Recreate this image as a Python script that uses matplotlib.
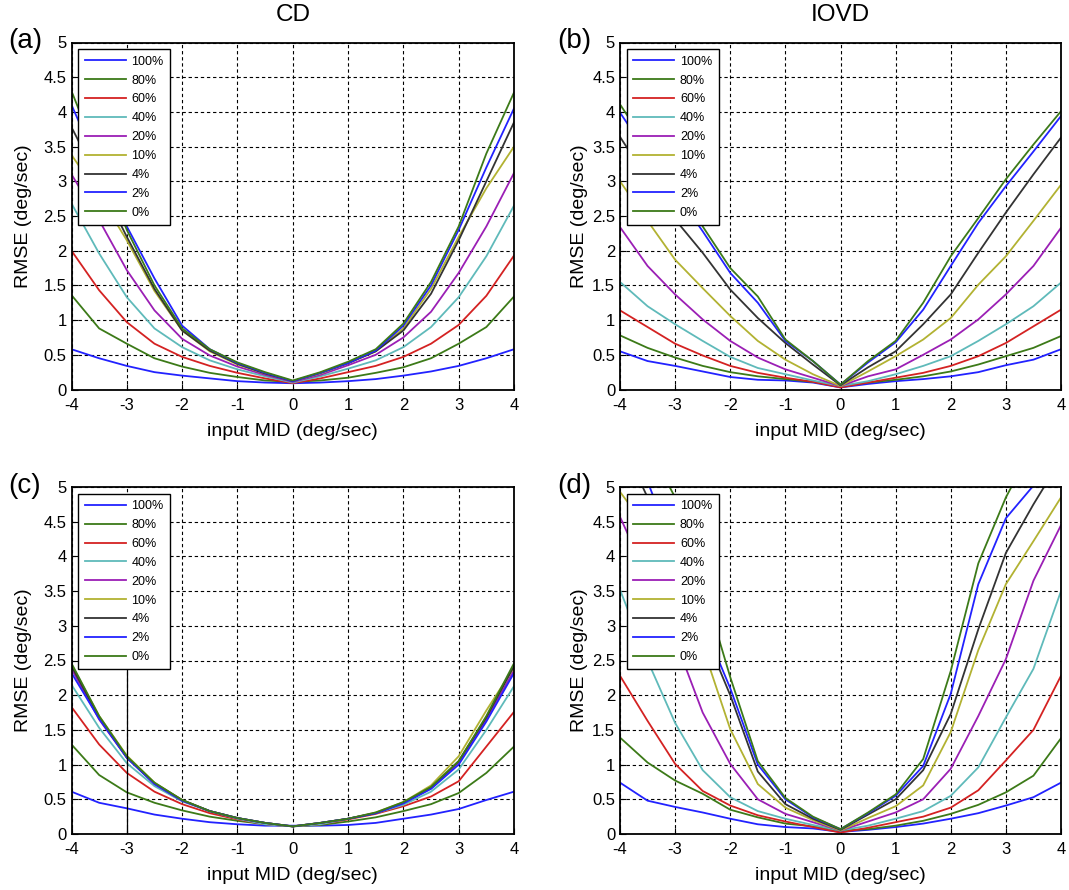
import numpy as np
import matplotlib.pyplot as plt

plt.rcParams['font.family'] = ['Liberation Sans', 'DejaVu Sans']
plt.rcParams['axes.unicode_minus'] = False

# input MID sample points (deg/sec)
mid = np.arange(-4, 4.01, 0.5)

labels = ['100%', '80%', '60%', '40%', '20%', '10%', '4%', '2%', '0%']
colors = ['#2222ff', '#3c7a18', '#d42222', '#5fbaba', '#9b1fb5',
          '#b2b232', '#333333', '#2222ff', '#3c7a18']

# (a) CD, top row
cd_a = [
    [0.58, 0.45, 0.34, 0.25, 0.20, 0.16, 0.12, 0.10, 0.09, 0.10, 0.12, 0.15, 0.20, 0.26, 0.34, 0.45, 0.58],
    [1.36, 0.88, 0.66, 0.45, 0.33, 0.24, 0.18, 0.13, 0.11, 0.13, 0.17, 0.24, 0.32, 0.45, 0.66, 0.90, 1.34],
    [2.00, 1.43, 0.97, 0.66, 0.47, 0.34, 0.24, 0.16, 0.09, 0.16, 0.25, 0.34, 0.47, 0.66, 0.93, 1.35, 1.93],
    [2.68, 1.96, 1.33, 0.88, 0.61, 0.42, 0.29, 0.19, 0.10, 0.19, 0.30, 0.42, 0.61, 0.90, 1.33, 1.92, 2.65],
    [3.10, 2.44, 1.72, 1.14, 0.73, 0.49, 0.33, 0.21, 0.11, 0.21, 0.35, 0.50, 0.75, 1.12, 1.68, 2.35, 3.12],
    [3.38, 2.80, 2.15, 1.42, 0.85, 0.55, 0.36, 0.23, 0.12, 0.23, 0.38, 0.55, 0.88, 1.45, 2.20, 2.90, 3.50],
    [3.78, 3.00, 2.20, 1.45, 0.85, 0.56, 0.37, 0.23, 0.12, 0.24, 0.38, 0.55, 0.85, 1.38, 2.15, 3.00, 3.85],
    [4.10, 3.20, 2.35, 1.60, 0.92, 0.58, 0.38, 0.24, 0.12, 0.24, 0.38, 0.56, 0.92, 1.50, 2.30, 3.20, 4.05],
    [4.30, 3.30, 2.30, 1.50, 0.88, 0.58, 0.39, 0.25, 0.13, 0.25, 0.40, 0.58, 0.95, 1.55, 2.35, 3.40, 4.28],
]

# (b) IOVD, top row
iovd_b = [
    [0.55, 0.41, 0.34, 0.26, 0.18, 0.14, 0.13, 0.10, 0.03, 0.08, 0.12, 0.15, 0.19, 0.25, 0.35, 0.43, 0.58],
    [0.78, 0.60, 0.46, 0.34, 0.25, 0.19, 0.15, 0.11, 0.05, 0.10, 0.14, 0.19, 0.26, 0.36, 0.48, 0.60, 0.77],
    [1.14, 0.90, 0.66, 0.49, 0.34, 0.24, 0.17, 0.11, 0.03, 0.10, 0.17, 0.24, 0.34, 0.48, 0.67, 0.91, 1.15],
    [1.55, 1.20, 0.94, 0.70, 0.47, 0.31, 0.22, 0.13, 0.05, 0.12, 0.22, 0.34, 0.48, 0.70, 0.94, 1.20, 1.54],
    [2.34, 1.78, 1.37, 1.01, 0.70, 0.46, 0.29, 0.17, 0.05, 0.19, 0.29, 0.50, 0.72, 1.01, 1.37, 1.78, 2.33],
    [3.00, 2.43, 1.87, 1.46, 1.06, 0.70, 0.43, 0.22, 0.05, 0.26, 0.48, 0.72, 1.03, 1.51, 1.92, 2.43, 2.95],
    [3.64, 3.03, 2.45, 1.97, 1.44, 1.03, 0.67, 0.36, 0.06, 0.32, 0.55, 0.94, 1.37, 1.97, 2.55, 3.10, 3.63],
    [3.99, 3.40, 2.85, 2.28, 1.68, 1.25, 0.70, 0.41, 0.07, 0.39, 0.68, 1.15, 1.78, 2.40, 2.93, 3.43, 3.94],
    [4.11, 3.50, 2.95, 2.35, 1.75, 1.34, 0.72, 0.41, 0.07, 0.41, 0.70, 1.25, 1.92, 2.47, 3.03, 3.53, 4.01],
]

# (c) CD, bottom row
cd_c = [
    [0.61, 0.45, 0.37, 0.28, 0.22, 0.17, 0.14, 0.12, 0.12, 0.12, 0.13, 0.16, 0.22, 0.28, 0.36, 0.49, 0.61],
    [1.29, 0.85, 0.60, 0.45, 0.34, 0.25, 0.19, 0.14, 0.11, 0.13, 0.18, 0.24, 0.33, 0.43, 0.59, 0.88, 1.26],
    [1.83, 1.29, 0.88, 0.61, 0.43, 0.30, 0.21, 0.14, 0.11, 0.14, 0.21, 0.29, 0.40, 0.54, 0.76, 1.26, 1.76],
    [2.15, 1.53, 1.02, 0.69, 0.47, 0.33, 0.22, 0.14, 0.11, 0.14, 0.22, 0.30, 0.42, 0.61, 0.93, 1.50, 2.13],
    [2.38, 1.65, 1.10, 0.72, 0.48, 0.33, 0.23, 0.16, 0.11, 0.16, 0.22, 0.30, 0.45, 0.66, 1.03, 1.65, 2.36],
    [2.44, 1.70, 1.13, 0.74, 0.49, 0.33, 0.23, 0.16, 0.11, 0.16, 0.22, 0.31, 0.46, 0.70, 1.12, 1.78, 2.40],
    [2.42, 1.68, 1.10, 0.73, 0.49, 0.33, 0.23, 0.16, 0.11, 0.16, 0.22, 0.30, 0.45, 0.67, 1.05, 1.68, 2.42],
    [2.32, 1.66, 1.10, 0.72, 0.48, 0.33, 0.23, 0.16, 0.11, 0.16, 0.22, 0.30, 0.44, 0.65, 1.00, 1.62, 2.32],
    [2.46, 1.70, 1.12, 0.74, 0.49, 0.33, 0.23, 0.16, 0.11, 0.16, 0.22, 0.31, 0.46, 0.68, 1.05, 1.70, 2.46],
]

# (d) IOVD, bottom row
iovd_d = [
    [0.74, 0.48, 0.39, 0.31, 0.22, 0.14, 0.10, 0.08, 0.03, 0.06, 0.10, 0.15, 0.22, 0.30, 0.41, 0.53, 0.74],
    [1.39, 1.03, 0.77, 0.58, 0.35, 0.24, 0.15, 0.11, 0.05, 0.07, 0.12, 0.19, 0.29, 0.42, 0.60, 0.84, 1.38],
    [2.28, 1.63, 1.01, 0.62, 0.41, 0.27, 0.18, 0.10, 0.02, 0.09, 0.17, 0.25, 0.38, 0.63, 1.06, 1.50, 2.28],
    [3.52, 2.50, 1.60, 0.92, 0.53, 0.33, 0.22, 0.13, 0.05, 0.12, 0.22, 0.33, 0.55, 0.96, 1.68, 2.38, 3.50],
    [4.57, 3.70, 2.80, 1.75, 1.01, 0.50, 0.29, 0.17, 0.05, 0.18, 0.31, 0.50, 0.94, 1.70, 2.52, 3.65, 4.45],
    [4.93, 4.40, 3.70, 2.70, 1.51, 0.72, 0.38, 0.20, 0.05, 0.23, 0.40, 0.70, 1.47, 2.65, 3.60, 4.22, 4.85],
    [5.70, 4.85, 3.90, 2.95, 2.00, 0.90, 0.43, 0.22, 0.06, 0.28, 0.50, 0.92, 1.73, 2.95, 4.05, 4.75, 5.40],
    [6.00, 5.08, 4.05, 3.05, 2.10, 1.00, 0.50, 0.24, 0.07, 0.30, 0.55, 0.98, 2.02, 3.60, 4.55, 5.02, 5.50],
    [6.50, 5.60, 4.85, 3.60, 2.26, 1.05, 0.52, 0.25, 0.07, 0.31, 0.57, 1.08, 2.35, 3.90, 4.85, 5.60, 6.20],
]

W, H = 1069, 890
fig = plt.figure(figsize=(W / 100, H / 100), dpi=100)

# axes boxes in pixels: left, top, right, bottom
boxes = [(71.5, 42.5, 514, 389.5), (620, 42.5, 1061, 389.5),
         (71.5, 487, 514, 834), (620, 487, 1061, 834)]
panels = [cd_a, iovd_b, cd_c, iovd_d]
tags = ['(a)', '(b)', '(c)', '(d)']
ylabel_pads = [8, 3, 8, 3]
yticks = np.arange(0, 5.01, 0.5)

for i, (box, data, tag) in enumerate(zip(boxes, panels, tags)):
    l, t, r, b = box
    ax = fig.add_axes([l / W, 1 - b / H, (r - l) / W, (b - t) / H])
    for vals, lab, col in zip(data, labels, colors):
        ax.plot(mid, vals, color=col, lw=1.3, label=lab)
    ax.set_xlim(-4, 4)
    ax.set_ylim(0, 5)
    ax.set_xticks(range(-4, 5))
    ax.set_yticks(yticks)
    ax.set_yticklabels(['%g' % v for v in yticks])
    ax.grid(True, color='black', linestyle=(0, (3, 2.5)), linewidth=0.8)
    ax.tick_params(direction='in', length=4, labelsize=12)
    ax.tick_params(axis='x', pad=6)
    ax.tick_params(axis='y', pad=3.5)
    for s in ax.spines.values():
        s.set_linewidth(1.3)
    ax.set_xlabel('input MID (deg/sec)', fontsize=14, labelpad=7)
    ax.set_ylabel('RMSE (deg/sec)', fontsize=14, labelpad=ylabel_pads[i])
    leg = ax.legend(loc='upper left', fontsize=9, frameon=True, fancybox=False,
                    edgecolor='black', framealpha=1, borderaxespad=0.55,
                    handlelength=3.3, handletextpad=0.45, labelspacing=0.55,
                    borderpad=0.5)
    leg.get_frame().set_linewidth(1.0)
    if i == 2:
        ax.axvline(-3, ymax=0.5, color='black', lw=0.9)
    fig.text((l - 63) / W, 1 - (t - 1) / H, tag, fontsize=20, ha='left', va='center')

fig.text(293 / W, 1 - 15 / H, 'CD', fontsize=17.5, ha='center', va='center')
fig.text(840 / W, 1 - 15 / H, 'IOVD', fontsize=17.5, ha='center', va='center')

fig.savefig('out.png', dpi=100)
